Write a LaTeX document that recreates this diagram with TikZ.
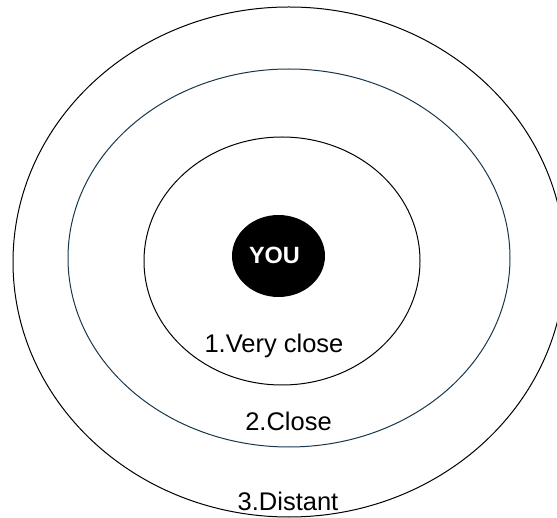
\documentclass[tikz,border=0pt]{standalone}
\usepackage{fontspec}
\setsansfont{Liberation Sans}
\usetikzlibrary{shapes.geometric}
\definecolor{ringblue}{RGB}{25,55,75}
\tikzset{
  ring/.style={draw=black, line width=1pt},
  lbl/.style={anchor=base, inner sep=0pt, font=\sffamily\fontsize{25.5}{29}\selectfont},
  youdot/.style={ellipse, fill=black, minimum width=93pt, minimum height=82pt, inner sep=0pt},
  youtxt/.style={anchor=base, inner sep=0pt, text=white, font=\sffamily\bfseries\fontsize{23.5}{27}\selectfont}
}
\begin{document}
\begin{tikzpicture}[x=1pt, y=-1pt]
  \useasboundingbox (0,0) rectangle (557,518);

  % --- anelli ---
  \draw[ring] (289,262) ellipse [x radius=276pt, y radius=255pt];
  \draw[ring, draw=ringblue] (289,258) ellipse [x radius=221pt, y radius=189pt];
  \draw[ring] (282,261) ellipse [x radius=138pt, y radius=124pt];

  % --- centro ---
  \node[youdot] (you) at (278.5,256) {};
  \node[youtxt] (youlbl) at (274.5,264) {YOU};

  % --- etichette ---
  \node[lbl] (veryclose) at (274,353) {1.Very close};
  \node[lbl] (close) at (288.5,431) {2.Close};
  \node[lbl] (distant) at (288,510) {3.Distant};

\end{tikzpicture}
\end{document}
